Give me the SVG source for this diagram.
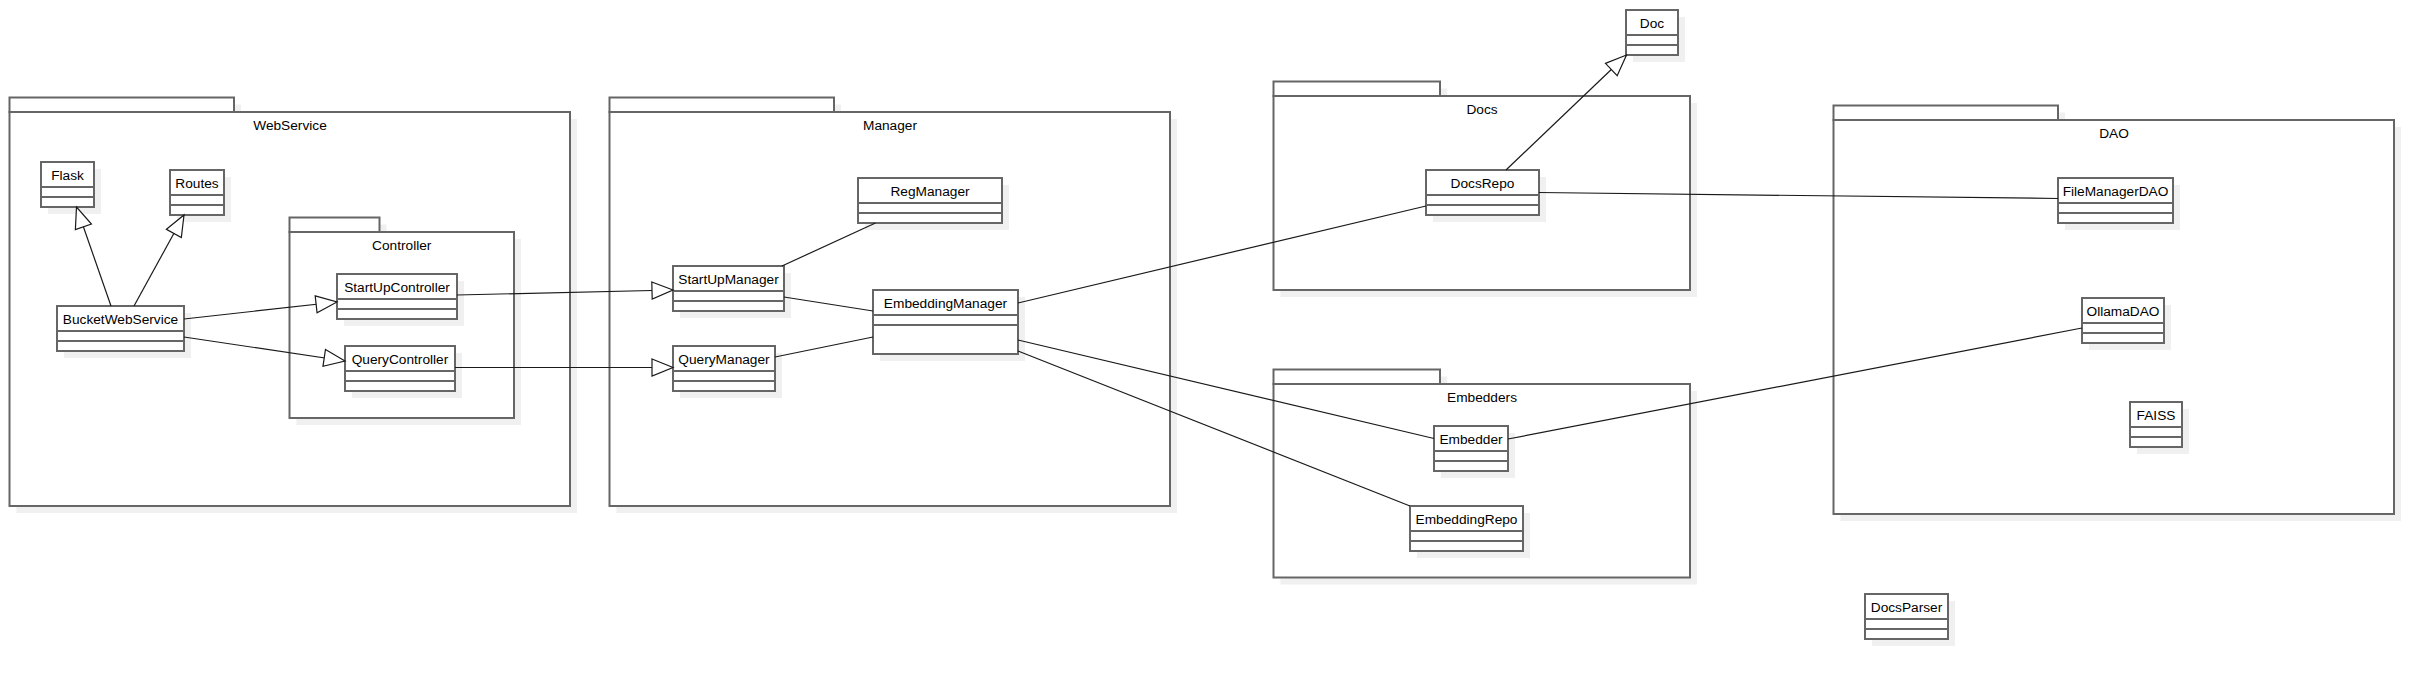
<svg xmlns="http://www.w3.org/2000/svg" width="2435" height="679" viewBox="0 0 2435 679">
<defs>
<style>
.bg{fill:#ffffff}
.sh{fill:#f0f0f0}
.box{fill:#ffffff;stroke:#666666;stroke-width:2}
.div{stroke:#666666;stroke-width:2}
.t{font-family:"Liberation Sans",Arial,sans-serif;font-size:13.7px;fill:#000000;text-anchor:middle}
.e{fill:none;stroke:#1a1a1a;stroke-width:1.2}
</style>
<marker id="tri" markerUnits="userSpaceOnUse" markerWidth="24" markerHeight="20" refX="21" refY="8.5" orient="auto" overflow="visible">
<path d="M0,0 L21,8.5 L0,17 Z" fill="#ffffff" stroke="#1a1a1a" stroke-width="1.2"/>
</marker>
</defs>
<rect class="bg" x="0" y="0" width="2435" height="679"/>

<g id="pkg-webservice">
<rect class="sh" x="16.5" y="104.5" width="224.5" height="14.5"/>
<rect class="sh" x="16.5" y="119" width="560.5" height="394"/>
<rect class="box" x="9.5" y="97.5" width="224.5" height="14.5"/>
<rect class="box" x="9.5" y="112" width="560.5" height="394"/>
<text class="t" x="290" y="130">WebService</text>
</g>
<g id="pkg-controller">
<rect class="sh" x="296.5" y="224.5" width="90" height="14.5"/>
<rect class="sh" x="296.5" y="239" width="224.5" height="186"/>
<rect class="box" x="289.5" y="217.5" width="90" height="14.5"/>
<rect class="box" x="289.5" y="232" width="224.5" height="186"/>
<text class="t" x="401.75" y="250">Controller</text>
</g>
<g id="pkg-manager">
<rect class="sh" x="616.5" y="104.5" width="224.5" height="14.5"/>
<rect class="sh" x="616.5" y="119" width="560.5" height="394"/>
<rect class="box" x="609.5" y="97.5" width="224.5" height="14.5"/>
<rect class="box" x="609.5" y="112" width="560.5" height="394"/>
<text class="t" x="890" y="130">Manager</text>
</g>
<g id="pkg-docs">
<rect class="sh" x="1280.5" y="88.5" width="166.5" height="14.5"/>
<rect class="sh" x="1280.5" y="103" width="416.5" height="194"/>
<rect class="box" x="1273.5" y="81.5" width="166.5" height="14.5"/>
<rect class="box" x="1273.5" y="96" width="416.5" height="194"/>
<text class="t" x="1482" y="114">Docs</text>
</g>
<g id="pkg-embedders">
<rect class="sh" x="1280.5" y="376.5" width="166.5" height="14.5"/>
<rect class="sh" x="1280.5" y="391" width="416.5" height="193.5"/>
<rect class="box" x="1273.5" y="369.5" width="166.5" height="14.5"/>
<rect class="box" x="1273.5" y="384" width="416.5" height="193.5"/>
<text class="t" x="1482" y="402">Embedders</text>
</g>
<g id="pkg-dao">
<rect class="sh" x="1840.5" y="112.5" width="224.5" height="14.5"/>
<rect class="sh" x="1840.5" y="127" width="560.5" height="394"/>
<rect class="box" x="1833.5" y="105.5" width="224.5" height="14.5"/>
<rect class="box" x="1833.5" y="120" width="560.5" height="394"/>
<text class="t" x="2114" y="138">DAO</text>
</g>

<g id="cls-flask">
<rect class="sh" x="48" y="169" width="53" height="45"/>
<rect class="box" x="41" y="162" width="53" height="45"/>
<line class="div" x1="41" y1="187" x2="94" y2="187"/>
<line class="div" x1="41" y1="197" x2="94" y2="197"/>
<text class="t" x="67.5" y="179.5">Flask</text>
</g>
<g id="cls-routes">
<rect class="sh" x="177" y="177" width="54" height="45"/>
<rect class="box" x="170" y="170" width="54" height="45"/>
<line class="div" x1="170" y1="195" x2="224" y2="195"/>
<line class="div" x1="170" y1="205" x2="224" y2="205"/>
<text class="t" x="197" y="187.5">Routes</text>
</g>
<g id="cls-bucketwebservice">
<rect class="sh" x="64" y="313" width="127" height="45"/>
<rect class="box" x="57" y="306" width="127" height="45"/>
<line class="div" x1="57" y1="331" x2="184" y2="331"/>
<line class="div" x1="57" y1="341" x2="184" y2="341"/>
<text class="t" x="120.5" y="323.5">BucketWebService</text>
</g>
<g id="cls-startupcontroller">
<rect class="sh" x="344" y="281" width="120" height="45"/>
<rect class="box" x="337" y="274" width="120" height="45"/>
<line class="div" x1="337" y1="299" x2="457" y2="299"/>
<line class="div" x1="337" y1="309" x2="457" y2="309"/>
<text class="t" x="397" y="291.5">StartUpController</text>
</g>
<g id="cls-querycontroller">
<rect class="sh" x="352" y="353" width="110" height="45"/>
<rect class="box" x="345" y="346" width="110" height="45"/>
<line class="div" x1="345" y1="371" x2="455" y2="371"/>
<line class="div" x1="345" y1="381" x2="455" y2="381"/>
<text class="t" x="400" y="363.5">QueryController</text>
</g>
<g id="cls-regmanager">
<rect class="sh" x="865" y="185" width="144" height="45"/>
<rect class="box" x="858" y="178" width="144" height="45"/>
<line class="div" x1="858" y1="203" x2="1002" y2="203"/>
<line class="div" x1="858" y1="213" x2="1002" y2="213"/>
<text class="t" x="930" y="195.5">RegManager</text>
</g>
<g id="cls-startupmanager">
<rect class="sh" x="680" y="273" width="111" height="45"/>
<rect class="box" x="673" y="266" width="111" height="45"/>
<line class="div" x1="673" y1="291" x2="784" y2="291"/>
<line class="div" x1="673" y1="301" x2="784" y2="301"/>
<text class="t" x="728.5" y="283.5">StartUpManager</text>
</g>
<g id="cls-querymanager">
<rect class="sh" x="680" y="353" width="102" height="45"/>
<rect class="box" x="673" y="346" width="102" height="45"/>
<line class="div" x1="673" y1="371" x2="775" y2="371"/>
<line class="div" x1="673" y1="381" x2="775" y2="381"/>
<text class="t" x="724" y="363.5">QueryManager</text>
</g>
<g id="cls-embeddingmanager">
<rect class="sh" x="880" y="297" width="145" height="64"/>
<rect class="box" x="873" y="290" width="145" height="64"/>
<line class="div" x1="873" y1="315" x2="1018" y2="315"/>
<line class="div" x1="873" y1="325" x2="1018" y2="325"/>
<text class="t" x="945.5" y="307.5">EmbeddingManager</text>
</g>
<g id="cls-doc">
<rect class="sh" x="1633" y="17" width="52" height="45"/>
<rect class="box" x="1626" y="10" width="52" height="45"/>
<line class="div" x1="1626" y1="35" x2="1678" y2="35"/>
<line class="div" x1="1626" y1="45" x2="1678" y2="45"/>
<text class="t" x="1652" y="27.5">Doc</text>
</g>
<g id="cls-docsrepo">
<rect class="sh" x="1433" y="177" width="113" height="45"/>
<rect class="box" x="1426" y="170" width="113" height="45"/>
<line class="div" x1="1426" y1="195" x2="1539" y2="195"/>
<line class="div" x1="1426" y1="205" x2="1539" y2="205"/>
<text class="t" x="1482.5" y="187.5">DocsRepo</text>
</g>
<g id="cls-embedder">
<rect class="sh" x="1441" y="433" width="74" height="45"/>
<rect class="box" x="1434" y="426" width="74" height="45"/>
<line class="div" x1="1434" y1="451" x2="1508" y2="451"/>
<line class="div" x1="1434" y1="461" x2="1508" y2="461"/>
<text class="t" x="1471" y="443.5">Embedder</text>
</g>
<g id="cls-embeddingrepo">
<rect class="sh" x="1417" y="513" width="113" height="45"/>
<rect class="box" x="1410" y="506" width="113" height="45"/>
<line class="div" x1="1410" y1="531" x2="1523" y2="531"/>
<line class="div" x1="1410" y1="541" x2="1523" y2="541"/>
<text class="t" x="1466.5" y="523.5">EmbeddingRepo</text>
</g>
<g id="cls-filemanagerdao">
<rect class="sh" x="2065" y="185" width="115" height="45"/>
<rect class="box" x="2058" y="178" width="115" height="45"/>
<line class="div" x1="2058" y1="203" x2="2173" y2="203"/>
<line class="div" x1="2058" y1="213" x2="2173" y2="213"/>
<text class="t" x="2115.5" y="195.5">FileManagerDAO</text>
</g>
<g id="cls-ollamadao">
<rect class="sh" x="2089" y="305" width="82" height="45"/>
<rect class="box" x="2082" y="298" width="82" height="45"/>
<line class="div" x1="2082" y1="323" x2="2164" y2="323"/>
<line class="div" x1="2082" y1="333" x2="2164" y2="333"/>
<text class="t" x="2123" y="315.5">OllamaDAO</text>
</g>
<g id="cls-faiss">
<rect class="sh" x="2137" y="409" width="52" height="45"/>
<rect class="box" x="2130" y="402" width="52" height="45"/>
<line class="div" x1="2130" y1="427" x2="2182" y2="427"/>
<line class="div" x1="2130" y1="437" x2="2182" y2="437"/>
<text class="t" x="2156" y="419.5">FAISS</text>
</g>
<g id="cls-docsparser">
<rect class="sh" x="1872" y="601" width="83" height="45"/>
<rect class="box" x="1865" y="594" width="83" height="45"/>
<line class="div" x1="1865" y1="619" x2="1948" y2="619"/>
<line class="div" x1="1865" y1="629" x2="1948" y2="629"/>
<text class="t" x="1906.5" y="611.5">DocsParser</text>
</g>

<g id="connectors">
<line class="e" x1="111" y1="306" x2="76.5" y2="207" marker-end="url(#tri)"/>
<line class="e" x1="134" y1="306" x2="184" y2="215" marker-end="url(#tri)"/>
<line class="e" x1="184" y1="319" x2="337" y2="302" marker-end="url(#tri)"/>
<line class="e" x1="184" y1="337" x2="345" y2="361" marker-end="url(#tri)"/>
<line class="e" x1="457" y1="295" x2="673" y2="290" marker-end="url(#tri)"/>
<line class="e" x1="455" y1="367.5" x2="673" y2="367.5" marker-end="url(#tri)"/>
<line class="e" x1="782" y1="266" x2="875.5" y2="223"/>
<line class="e" x1="784" y1="297" x2="873" y2="311"/>
<line class="e" x1="775" y1="357" x2="873" y2="337"/>
<line class="e" x1="1018" y1="303" x2="1426" y2="206"/>
<line class="e" x1="1018" y1="340" x2="1434" y2="438.5"/>
<line class="e" x1="1018" y1="351" x2="1410" y2="506"/>
<line class="e" x1="1506" y1="170" x2="1626.5" y2="55" marker-end="url(#tri)"/>
<line class="e" x1="1539" y1="192.5" x2="2058" y2="198.5"/>
<line class="e" x1="1508" y1="439" x2="2082" y2="328"/>
</g>
</svg>
